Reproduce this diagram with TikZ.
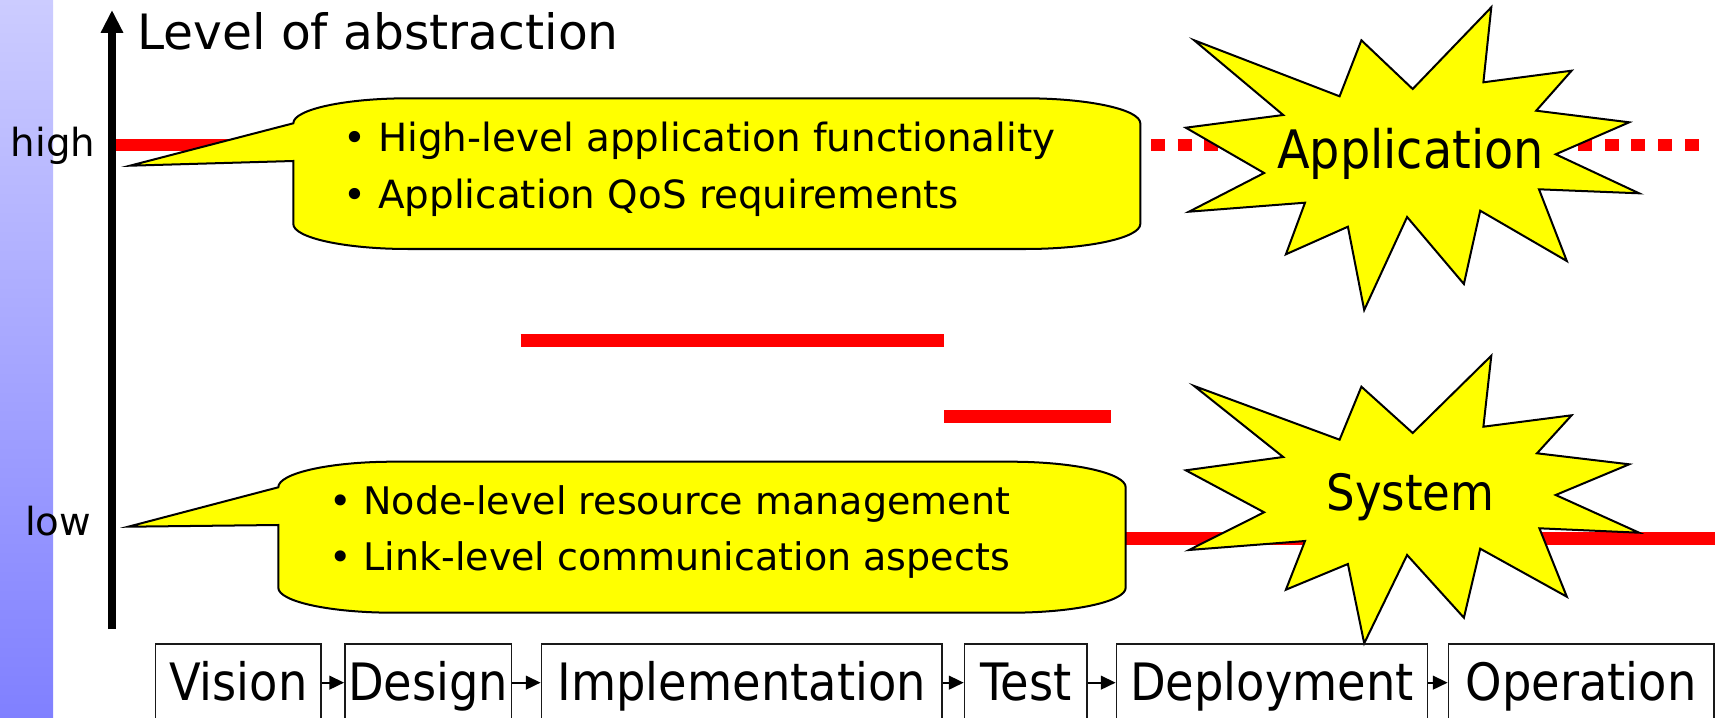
\documentclass[tikz,border=0pt]{standalone}
\usepackage{fontspec}
\setmainfont{DejaVu Sans}
\newfontfamily\narrowfont{DejaVu Sans}[FakeStretch=0.9]
\usetikzlibrary{arrows.meta}
\definecolor{barTop}{RGB}{204,204,255}
\definecolor{barBottom}{RGB}{128,128,255}
\definecolor{noteYellow}{RGB}{255,255,0}
\definecolor{levelRed}{RGB}{255,0,0}

\begin{document}
\begin{tikzpicture}[x=0.01cm, y=-0.01cm,
  txt/.style={inner sep=0pt, outer sep=0pt},
  levellabel/.style={txt, anchor=base west, font=\fontsize{11pt}{13pt}\selectfont},
  bulletline/.style={txt, anchor=base west, font=\fontsize{10.81pt}{13pt}\selectfont},
  phase/.style={draw=black!90, line width=0.45pt, inner sep=0pt,
    minimum height=0.767cm, text height=0.357cm, text depth=0pt,
    font=\narrowfont\fontsize{14.65pt}{17pt}\selectfont},
  phasearrow/.style={line width=0.55pt, -{Triangle[length=4.2pt,width=3.9pt]}},
  callout/.style={fill=noteYellow, draw=black, line width=0.57pt, line join=miter},
  burst/.style={fill=noteYellow, draw=black, line width=0.57pt, line join=miter},
  redline/.style={draw=levelRed, line width=3.6pt, line cap=butt},
  axisline/.style={line width=2.1pt, -{Triangle[width=6pt,length=6.5pt]}}
]
\useasboundingbox (0,0) rectangle (1723,718);
\clip (0,0) rectangle (1723,718);

% shaded strip on the left edge
\shade[top color=barTop, bottom color=barBottom] (0,0) rectangle (53,718);

% abstraction levels in red
\coordinate (hiA) at (112,145);
\coordinate (hiB) at (420,145);
\coordinate (hiC) at (1151,145);
\coordinate (hiD) at (1699,145);
\coordinate (m1a) at (520.7,340.7);
\coordinate (m1b) at (944.4,340.7);
\coordinate (m2a) at (944.4,416.7);
\coordinate (m2b) at (1110.6,416.7);
\coordinate (loA) at (1100,538.3);
\coordinate (loB) at (1715,538.3);
\draw[redline] (hiA) -- (hiB);
\draw[redline, dash pattern=on 3.98pt off 3.61pt] (hiC) -- (hiD);
\draw[redline] (m1a) -- (m1b);
\draw[redline] (m2a) -- (m2b);
\draw[redline] (loA) -- (loB);

% vertical axis
\coordinate (axisBottom) at (112,629);
\coordinate (axisTop) at (112,10);
\draw[axisline] (axisBottom) -- (axisTop);
\node[txt, anchor=base west, font=\fontsize{13.85pt}{16pt}\selectfont] (axistitle) at (137,49.5) {Level of abstraction};
\node[levellabel] (high) at (11,156.7) {high};
\node[levellabel] (low) at (25,535) {low};

% upper callout
\filldraw[callout] (293.3,161) -- (130,165.7) -- (293.3,123.3)
  .. controls (293.3,109.5) and (345,98.3) .. (408.3,98.3)
  -- (1025.3,98.3)
  .. controls (1088.6,98.3) and (1140.3,109.5) .. (1140.3,123.3)
  -- (1140.3,224)
  .. controls (1140.3,237.8) and (1088.6,249) .. (1025.3,249)
  -- (408.3,249)
  .. controls (345,249) and (293.3,237.8) .. (293.3,224)
  -- cycle;
\node[bulletline, font=\fontsize{11.05pt}{13pt}\selectfont] (appA) at (343,151.7) {• High-level application functionality};
\node[bulletline, font=\fontsize{11.05pt}{13pt}\selectfont] (appB) at (343,208.3) {• Application QoS requirements};

% lower callout
\filldraw[callout] (278.3,525) -- (128.3,526.7) -- (278.3,487.3)
  .. controls (278.3,473.2) and (330,461.7) .. (393.3,461.7)
  -- (1010.7,461.7)
  .. controls (1074,461.7) and (1125.7,473.2) .. (1125.7,487.3)
  -- (1125.7,587.7)
  .. controls (1125.7,601.5) and (1074,612.7) .. (1010.7,612.7)
  -- (393.3,612.7)
  .. controls (330,612.7) and (278.3,601.5) .. (278.3,587.7)
  -- cycle;
\node[bulletline] (sysA) at (329,514.3) {• Node-level resource management};
\node[bulletline] (sysB) at (329,570) {• Link-level communication aspects};

% explosion shapes
\filldraw[burst] (1491.3,7.3) -- (1483.4,82.3) -- (1571.6,70.7) -- (1536.2,110.7)
  -- (1629.2,122.3) -- (1555.7,154.3) -- (1639.1,193.3) -- (1539.0,189.3)
  -- (1566.8,261) -- (1480.2,210.7) -- (1463.9,284) -- (1407.1,217)
  -- (1364.2,310) -- (1347.9,226.7) -- (1285.9,254.3) -- (1305.0,202.7)
  -- (1189.0,211.7) -- (1264.1,173) -- (1185.8,127.7) -- (1283.2,115)
  -- (1194.2,40.3) -- (1339.6,96.3) -- (1361.4,40.3) -- (1412.7,89) -- cycle;
\node[txt, anchor=base, font=\narrowfont\fontsize{15.08pt}{18pt}\selectfont] (application) at (1410.5,168.3) {Application};

\filldraw[burst] (1491.3,355.7) -- (1483.4,426.7) -- (1571.6,415.3) -- (1537.0,453.3)
  -- (1629.2,464.3) -- (1555.7,495) -- (1639.1,532.7) -- (1539.4,528.3)
  -- (1566.8,596.7) -- (1480.2,548.7) -- (1463.9,617.7) -- (1407.1,555)
  -- (1364.2,643.3) -- (1347.9,564) -- (1285.9,589.7) -- (1305.0,541)
  -- (1189.0,550) -- (1264.1,512.3) -- (1185.8,470.3) -- (1283.2,457)
  -- (1194.2,386) -- (1339.6,439.7) -- (1361.4,386.7) -- (1412.7,433) -- cycle;
\node[txt, anchor=base, font=\narrowfont\fontsize{14.23pt}{17pt}\selectfont] (system) at (1410.5,510) {System};

% development phases
\node[phase, minimum width=1.653cm] (vision) at (238.3,682.65) {Vision};
\node[phase, minimum width=1.667cm] (design) at (428.3,682.65) {Design};
\node[phase, minimum width=4.005cm] (impl) at (741.75,682.65) {Implementation};
\node[phase, minimum width=1.225cm] (test) at (1025.75,682.65) {Test};
\node[phase, minimum width=3.11cm] (deploy) at (1272,682.65) {Deployment};
\node[phase, minimum width=2.655cm] (oper) at (1581.25,682.65) {Operation};
\draw[phasearrow] (vision) -- (design);
\draw[phasearrow] (design) -- (impl);
\draw[phasearrow] (impl) -- (test);
\draw[phasearrow] (test) -- (deploy);
\draw[phasearrow] (deploy) -- (oper);
\end{tikzpicture}
\end{document}
